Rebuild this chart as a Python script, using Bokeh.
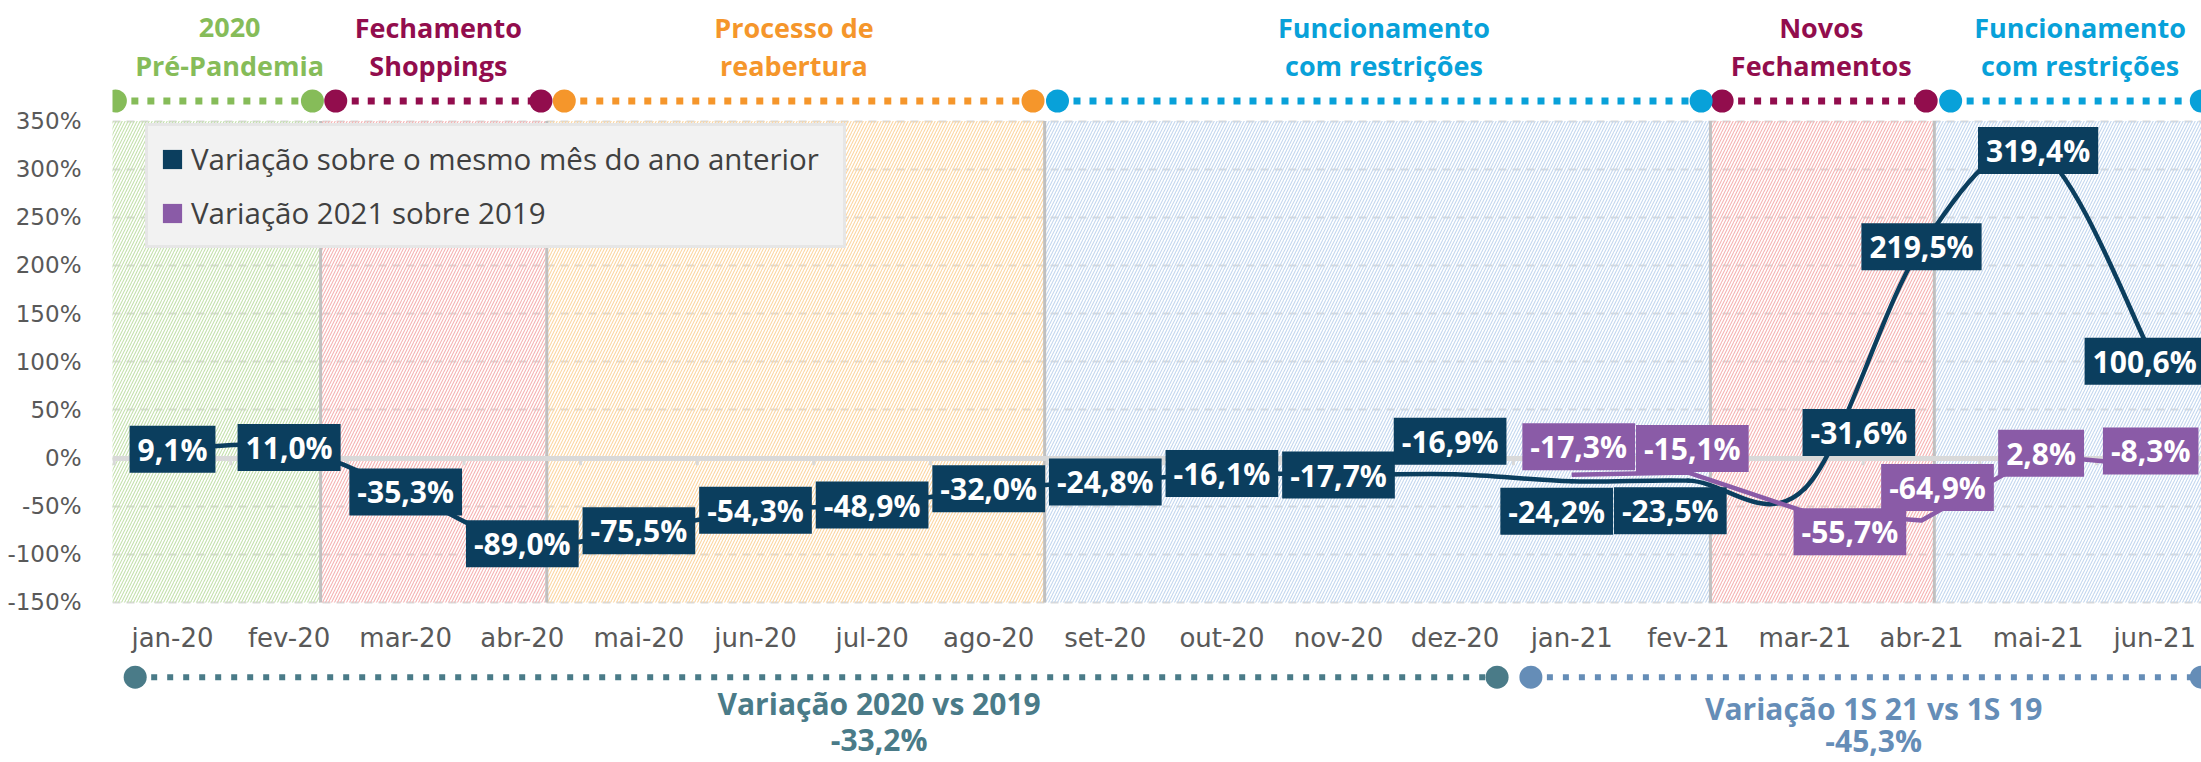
import numpy as np
from bokeh.plotting import figure
from bokeh.models import (Range1d, FixedTicker, PrintfTickFormatter, ColumnDataSource,
                          Legend, LegendItem)
from bokeh.core.properties import value
from bokeh.embed import file_html
from bokeh.resources import INLINE

# ---------------- data ----------------
months = ["jan-20", "fev-20", "mar-20", "abr-20", "mai-20", "jun-20", "jul-20", "ago-20",
          "set-20", "out-20", "nov-20", "dez-20", "jan-21", "fev-21", "mar-21", "abr-21",
          "mai-21", "jun-21"]
yoy_values = [9.1, 11.0, -35.3, -89.0, -75.5, -54.3, -48.9, -32.0, -24.8, -16.1, -17.7,
              -16.9, -24.2, -23.5, -31.6, 219.5, 319.4, 100.6]
vs2019_months = ["jan-21", "fev-21", "mar-21", "abr-21", "mai-21", "jun-21"]
vs2019_values = [-17.3, -15.1, -55.7, -64.9, 2.8, -8.3]
y_ticks = [-150, -100, -50, 0, 50, 100, 150, 200, 250, 300, 350]

series_names = ["Variação sobre o mesmo mês do ano anterior", "Variação 2021 sobre 2019"]

phase_line1 = ["2020", "Fechamento", "Processo de", "Funcionamento", "Novos", "Funcionamento"]
phase_line2 = ["Pré-Pandemia", "Shoppings", "reabertura", "com restrições", "Fechamentos",
               "com restrições"]
phase_start = [-0.49, 1.40, 3.36, 7.59, 13.29, 15.25]
phase_end = [1.20, 3.16, 7.38, 13.11, 15.04, 17.40]
phase_label_x = [0.49, 2.28, 5.33, 10.39, 14.14, 16.36]
shade_edges = [-0.52, 1.27, 3.21, 7.48, 13.19, 15.11, 17.6]

summary_titles = ["Variação 2020 vs 2019", "Variação 1S 21 vs 1S 19"]
summary_values = [-33.2, -45.3]
summary_start = [-0.32, 11.65]
summary_end = [11.36, 17.40]
summary_x = [6.06, 14.59]

# ---------------- styles / layout ----------------
NAVY = "#0b3e5e"
PURPLE = "#8a5ba7"
GREEN = "#86bc59"
MAGENTA = "#920d4d"
ORANGE = "#f5962b"
BLUE = "#08a1d9"
phase_colors = [GREEN, MAGENTA, ORANGE, BLUE, MAGENTA, BLUE]
shade_hatch = ["#c4e1ad", "#f6b3b3", "#fcd6a2", "#c3d7ef", "#f6b3b3", "#c3d7ef"]
summary_colors = ["#4a7b88", "#658db7"]
GREY_TXT = "#595959"

# label offsets in screen pixels (dx, dy; dy positive = down)
yoy_dx = [0] * 18
yoy_dy = [0] * 18
yoy_dx[11], yoy_dy[11] = -5, -33
yoy_dx[12], yoy_dy[12] = -15, 30
yoy_dx[13], yoy_dy[13] = -18, 30
yoy_dx[14], yoy_dy[14] = 54, -56
yoy_dx[17] = -10
vs_dx = [7, 4, 45, 16, 3, -4]
vs_dy = [-28, -24, 20, -33, -2, -15]

# figure pixel <-> data mapping used for placing annotations
X0, DX = 172.0, 116.6
Y0, KY = 457.5, 0.9628


def px2x(px):
    return (px - X0) / DX


def py2y(py):
    return (Y0 - py) / KY


def pct(v):
    return f"{v:.1f}".replace(".", ",") + "%"


W, H = 2201, 762
FRAME_LEFT = 112
p = figure(width=W, height=H, output_backend="svg", toolbar_location=None,
           x_axis_location=None,
           x_range=Range1d(px2x(FRAME_LEFT), px2x(W)),
           y_range=Range1d(py2y(H), py2y(0)),
           min_border_left=FRAME_LEFT, min_border_right=0, min_border_top=0,
           min_border_bottom=0,
           outline_line_color=None, background_fill_color="white",
           border_fill_color="white")
p.xgrid.grid_line_color = None

# y axis
p.yaxis.ticker = FixedTicker(ticks=y_ticks)
p.yaxis.formatter = PrintfTickFormatter(format="%d%%")
p.yaxis.axis_line_color = None
p.yaxis.major_tick_line_color = None
p.yaxis.minor_tick_line_color = None
p.yaxis.major_label_standoff = 25
p.yaxis.major_label_text_font = "DejaVu Sans"
p.yaxis.major_label_text_font_size = "23px"
p.yaxis.major_label_text_color = GREY_TXT
p.ygrid.ticker = FixedTicker(ticks=[t for t in y_ticks if t != 0])
p.ygrid.grid_line_color = "#d9d9d9"
p.ygrid.grid_line_width = 2
p.ygrid.grid_line_dash = "8 6"

# shaded phases
p.quad(left=shade_edges[:-1], right=shade_edges[1:], bottom=min(y_ticks), top=max(y_ticks),
       fill_color=None, line_color=None, hatch_pattern="/", hatch_color=shade_hatch,
       hatch_scale=6, hatch_weight=1.1)
p.segment(x0=shade_edges[1:-1], x1=shade_edges[1:-1], y0=min(y_ticks), y1=max(y_ticks),
          line_color="#c0c0c0", line_width=3)

# zero line with category ticks
p.hspan(y=[0], line_color="#d9d9d9", line_width=5)
bounds = np.arange(len(months) + 1) - 0.5
p.segment(x0=bounds, x1=bounds, y0=0, y1=-7.5, line_color="#d9d9d9", line_width=3)

# smoothed navy line (Catmull-Rom -> cubic Bezier, like Excel smoothing)
xs = np.arange(len(yoy_values), dtype=float)
ys = np.array(yoy_values, dtype=float)
n = len(xs)
bx0, by0, bx1, by1, bcx0, bcy0, bcx1, bcy1 = ([] for _ in range(8))
for k in range(n - 1):
    km, kp = max(k - 1, 0), min(k + 2, n - 1)
    bx0.append(xs[k]); by0.append(ys[k])
    bx1.append(xs[k + 1]); by1.append(ys[k + 1])
    bcx0.append(xs[k] + (xs[k + 1] - xs[km]) / 6); bcy0.append(ys[k] + (ys[k + 1] - ys[km]) / 6)
    bcx1.append(xs[k + 1] - (xs[kp] - xs[k]) / 6); bcy1.append(ys[k + 1] - (ys[kp] - ys[k]) / 6)
p.bezier(x0=bx0, y0=by0, x1=bx1, y1=by1, cx0=bcx0, cy0=bcy0, cx1=bcx1, cy1=bcy1,
         line_color=NAVY, line_width=4.5, line_cap="round")

# purple straight line
vs_x = [months.index(m) for m in vs2019_months]
p.line(x=vs_x, y=vs2019_values, line_color=PURPLE, line_width=4.5, line_join="round")

# data labels
lab_kw = dict(text_font=value("Open Sans"), text_font_style="bold", text_font_size="30px",
              text_color="white", text_align="center", text_baseline="middle",
              padding=(8, 3), border_line_color=None)
src1 = ColumnDataSource(dict(x=list(xs), y=yoy_values, t=[pct(v) for v in yoy_values],
                             dx=yoy_dx, dy=yoy_dy))
p.text(x="x", y="y", text="t", x_offset="dx", y_offset="dy", source=src1,
       background_fill_color=NAVY, **lab_kw)
src2 = ColumnDataSource(dict(x=vs_x, y=vs2019_values, t=[pct(v) for v in vs2019_values],
                             dx=vs_dx, dy=vs_dy))
p.text(x="x", y="y", text="t", x_offset="dx", y_offset="dy", source=src2,
       background_fill_color=PURPLE, **lab_kw)

# top phase timeline
ty = py2y(100.5)
p.segment(x0=phase_start, x1=phase_end, y0=ty, y1=ty, line_color=phase_colors,
          line_width=7, line_dash="7 9", line_cap="butt")
p.scatter(x=phase_start + phase_end, y=[ty] * 12, size=23, marker="circle",
          fill_color=phase_colors + phase_colors, line_color=None)
title_kw = dict(text_font=value("Open Sans"), text_font_style="bold", text_font_size="27px",
                text_align="center", text_baseline="middle")
p.text(x=phase_label_x, y=[py2y(26.5)] * 6, text=phase_line1, text_color=phase_colors, **title_kw)
p.text(x=phase_label_x, y=[py2y(65)] * 6, text=phase_line2, text_color=phase_colors, **title_kw)

# month labels
p.text(x=list(xs), y=[py2y(637)] * n, text=months, text_font=value("DejaVu Sans"),
       text_font_size="26px", text_color=GREY_TXT, text_align="center",
       text_baseline="middle")

# bottom summary timeline
by = py2y(676.7)
p.segment(x0=summary_start, x1=summary_end, y0=by, y1=by, line_color=summary_colors,
          line_width=6, line_dash="6 10", line_cap="butt")
p.scatter(x=summary_start + summary_end, y=[by] * 4, size=23, marker="circle",
          fill_color=summary_colors + summary_colors, line_color=None)
sum_kw = dict(text_font=value("Open Sans"), text_font_style="bold", text_font_size="30px",
              text_align="center", text_baseline="middle")
p.text(x=summary_x, y=[py2y(702.5), py2y(707.5)], text=summary_titles,
       text_color=summary_colors, **sum_kw)
p.text(x=summary_x, y=[py2y(739), py2y(740)], text=[pct(v) for v in summary_values],
       text_color=summary_colors, **sum_kw)

# legend (swatch renderers sit outside the visible range)
r_leg1 = p.quad(left=[-5.0], right=[-4.9], top=[-1000.0], bottom=[-1001.0],
                fill_color=NAVY, line_color=None)
r_leg2 = p.quad(left=[-5.0], right=[-4.9], top=[-1000.0], bottom=[-1001.0],
                fill_color=PURPLE, line_color=None)
legend = Legend(items=[LegendItem(label=series_names[0], renderers=[r_leg1]),
                       LegendItem(label=series_names[1], renderers=[r_leg2])],
                location=(33, H - 248), orientation="vertical", padding=12, spacing=13,
                label_standoff=7, glyph_width=24, glyph_height=24, label_height=24,
                label_width=640,
                label_text_font="Open Sans", label_text_font_size="29.5px",
                label_text_color="#404040", background_fill_color="#f2f2f2",
                background_fill_alpha=1.0, border_line_color="#d9d9d9",
                border_line_width=3, margin=0)
p.add_layout(legend)

open("out.html", "w").write(file_html(p, INLINE))
